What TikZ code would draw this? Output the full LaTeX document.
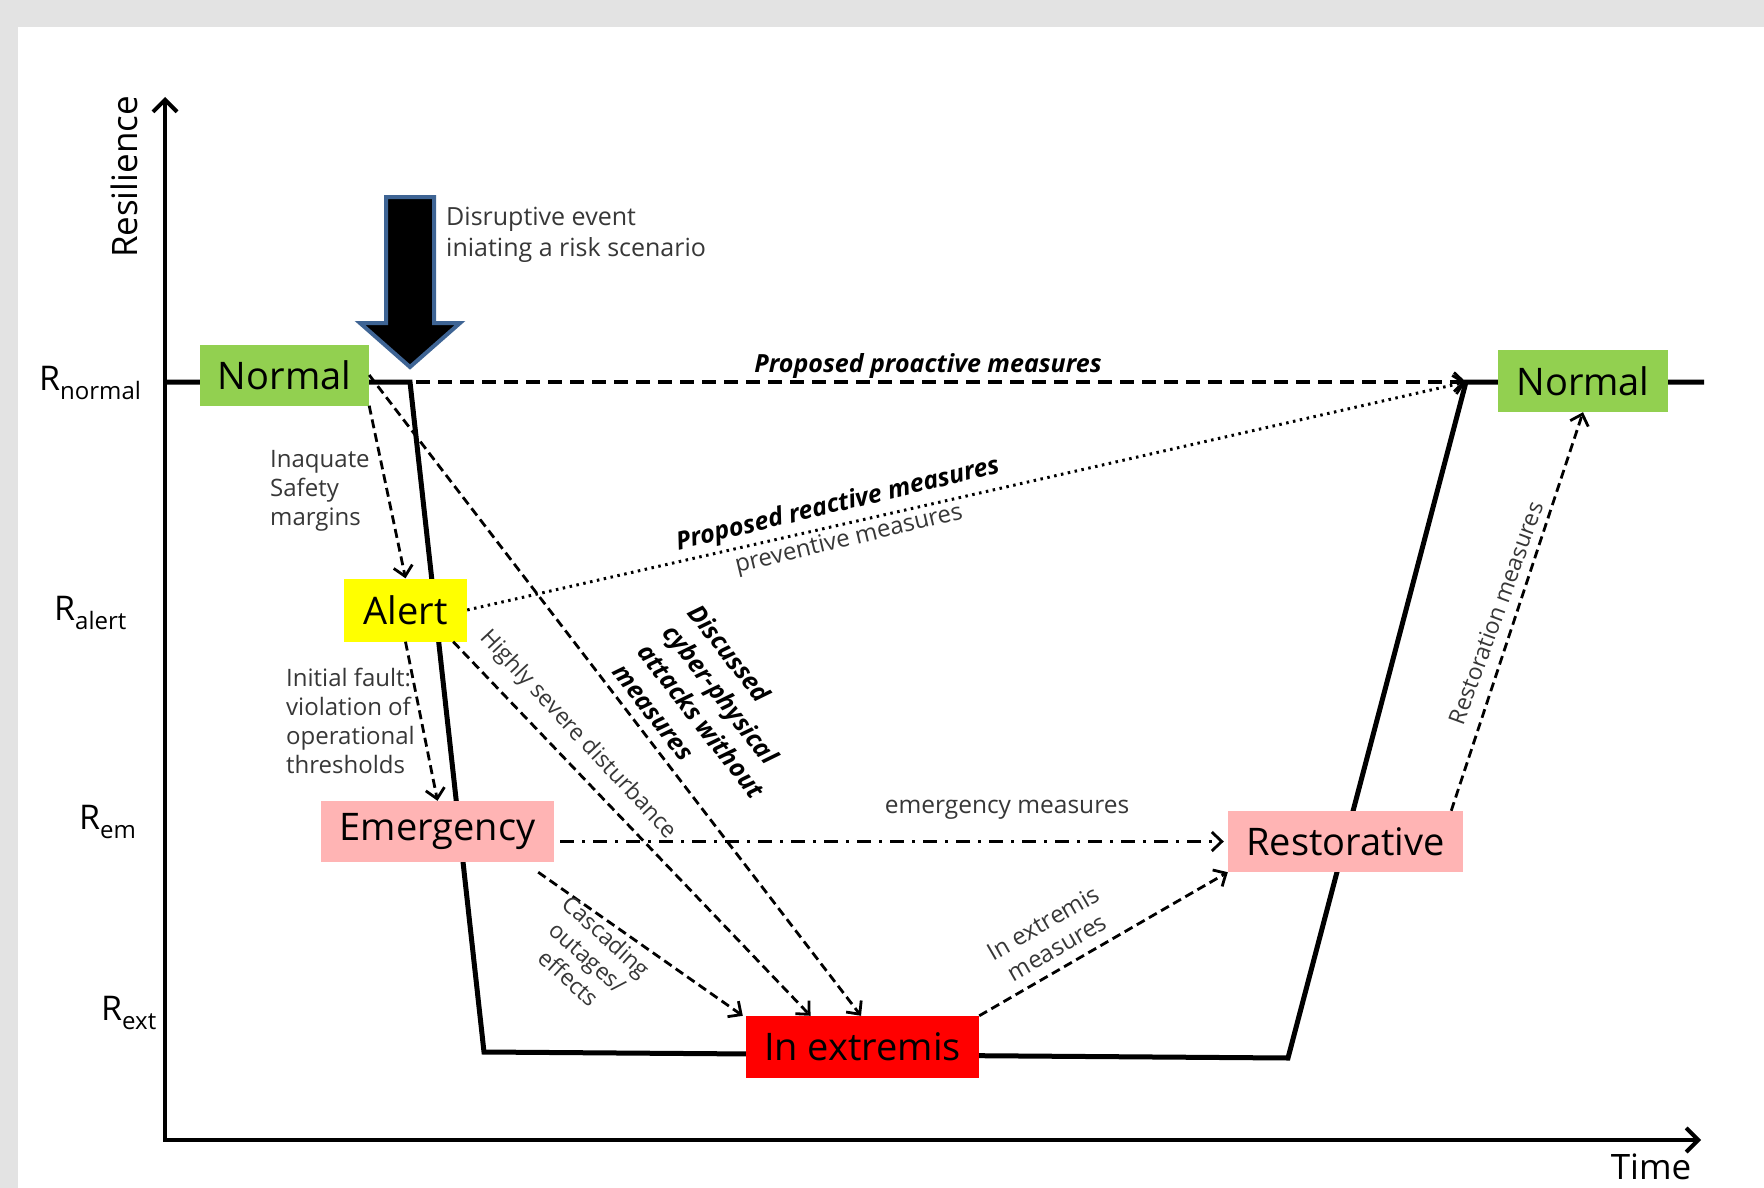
\documentclass[tikz,border=0pt]{standalone}
\usepackage{fontspec}
\setmainfont{Open Sans}
\usetikzlibrary{arrows.meta,calc}

\definecolor{pagegray}{RGB}{227,227,227}
\definecolor{stgreen}{RGB}{146,208,80}
\definecolor{styellow}{RGB}{255,255,0}
\definecolor{stpink}{RGB}{255,180,180}
\definecolor{stred}{RGB}{255,0,0}
\definecolor{evblue}{RGB}{62,100,148}
\definecolor{lblgray}{RGB}{55,55,55}

\newcommand\stfont{\fontsize{38}{40}\selectfont}
\newcommand\lblfont{\fontsize{24}{29}\selectfont}
\newcommand\axfont{\fontsize{35}{38}\selectfont}
\newcommand\rlevel[1]{\fontsize{34}{36}\selectfont R\raisebox{-9pt}{\fontsize{24}{26}\selectfont #1}}

\begin{document}
\begin{tikzpicture}[x=1pt,y=-1pt,
  stbox/.style={inner sep=0pt, font=\stfont, text=black},
  lbl/.style={inner sep=0pt, font=\lblfont, text=lblgray},
  axisline/.style={line width=4pt, {Straight Barb[length=12pt,width=24pt,line width=4pt]}-{Straight Barb[length=12pt,width=24pt,line width=4pt]}},
  curve/.style={line width=5pt, line join=miter},
  tip/.style={-{Straight Barb[length=10pt,width=19pt,line width=2.8pt]}},
  darr/.style={tip, line width=2.8pt, dash pattern=on 9pt off 5pt},
  proact/.style={tip, line width=3.2pt, dash pattern=on 14pt off 8pt},
  dotarr/.style={tip, line width=3pt, dash pattern=on 2.5pt off 4.5pt},
  dadot/.style={tip, line width=3pt, dash pattern=on 14pt off 8pt on 3pt off 8pt}]

% page and panel
\fill[pagegray] (0,0) rectangle (1764,1188);
\fill[white] (18,27) rectangle (1764,1188);
\useasboundingbox (0,0) rectangle (1764,1188);

% axes
\coordinate (ytop) at (165,97);
\coordinate (orig) at (165,1140);
\coordinate (xend) at (1701,1140);
\draw[axisline] (ytop) -- (orig) -- (xend);
\node[font=\axfont, rotate=90, inner sep=0pt] (resil) at (124,177) {Resilience};
\node[font=\axfont, inner sep=0pt] (time) at (1651,1167) {Time};

% resilience levels
\node[anchor=base west, inner sep=0pt] (rnormal) at (39,390) {\rlevel{normal}};
\node[anchor=base west, inner sep=0pt] (ralert) at (54,620) {\rlevel{alert}};
\node[anchor=base west, inner sep=0pt] (rem) at (79,829) {\rlevel{em}};
\node[anchor=base west, inner sep=0pt] (rext) at (101,1020) {\rlevel{ext}};

% resilience curve
\coordinate (c0) at (165,382);
\coordinate (c1) at (410,382);
\coordinate (c2) at (484,1052);
\coordinate (c3) at (1288,1058);
\coordinate (c4) at (1466,382);
\coordinate (c5) at (1704,382);
\draw[curve] (c0) -- (c1) -- (c2) -- (c3) -- (c4) -- (c5);

% disruptive event arrow
\draw[fill=black, draw=evblue, line width=4pt, line join=miter]
  (386,197) -- (434,197) -- (434,323) -- (460,323) -- (410,367)
  -- (360,323) -- (386,323) -- cycle;
\node[lbl, anchor=west, align=left, font=\fontsize{25}{31}\selectfont] (disr) at (446,235)
  {Disruptive event\\iniating a risk scenario};

% states
\node[stbox, fill=stgreen, minimum width=169pt, minimum height=61pt] (normL) at (284.5,375) {Normal};
\node[stbox, fill=styellow, minimum width=123pt, minimum height=63pt] (alert) at (405.5,610) {Alert};
\node[stbox, fill=stpink, minimum width=233pt, minimum height=61pt] (emerg) at (437.5,831.5) {Emergency};
\node[stbox, fill=stred, minimum width=233pt, minimum height=62pt] (extr) at (862.5,1047) {In extremis};
\node[stbox, fill=stpink, minimum width=235pt, minimum height=61pt] (restor) at (1345.5,841.5) {Restorative};
\node[stbox, fill=stgreen, minimum width=170pt, minimum height=62pt] (normR) at (1583,381) {Normal};

% transitions
\draw[darr] (normL.south east) -- (alert.north);
\draw[darr] (alert.south) -- (emerg.north);
\draw[darr] (normL.east) -- ([xshift=-1.5pt]extr.north);
\draw[darr] ([xshift=-14pt]alert.south east) -- ([xshift=-52pt]extr.north);
\draw[darr] ([xshift=-16pt,yshift=-10pt]emerg.south east) -- ([xshift=-3pt]extr.north west);
\draw[darr] (extr.north east) -- (restor.south west);
\draw[darr] ([xshift=-12pt]restor.north east) -- (normR.south);
\draw[dadot] ($(emerg.east |- restor.west)+(6,0)$) -- ([xshift=-4pt]restor.west);
\draw[proact, shorten <=6pt] (c1) -- (c4);
\draw[dotarr] (alert.east) -- (c4);

% transition labels
\node[lbl, anchor=west, align=left] (inadeq) at (270,491) {Inaquate\\Safety\\margins};
\node[lbl, anchor=west, align=left] (initf) at (286,721) {Initial fault:\\violation of\\operational\\thresholds};
\node[inner sep=0pt, font=\fontsize{25}{27}\selectfont\bfseries\itshape] (proL) at (928,366) {Proposed proactive measures};
\node[inner sep=0pt, rotate=13.5, font=\fontsize{25}{27}\selectfont\bfseries\itshape] (reactL) at (838,505) {Proposed reactive measures};
\node[lbl, rotate=13.5] (prevL) at (849,540) {preventive measures};
\node[lbl, rotate=-47, font=\fontsize{23}{26}\selectfont] (sevL) at (578,735) {Highly severe disturbance};
\node[inner sep=0pt, rotate=-52, align=left, font=\fontsize{25}{32}\selectfont\bfseries\itshape] (cybL) at (714,711)
  {Discussed\\cyber-physical\\attacks without\\measures};
\node[lbl, rotate=-42, align=center, font=\fontsize{23}{28}\selectfont] (cascL) at (588,957) {Cascading\\outages/\\effects};
\node[lbl, font=\fontsize{24.5}{27}\selectfont] (emmL) at (1007,810) {emergency measures};
\node[lbl, rotate=30, align=center, font=\fontsize{24}{28}\selectfont] (extmL) at (1050,935) {In extremis\\measures};
\node[lbl, rotate=70, font=\fontsize{23}{26}\selectfont] (restL) at (1496,613) {Restoration measures};
\end{tikzpicture}
\end{document}
